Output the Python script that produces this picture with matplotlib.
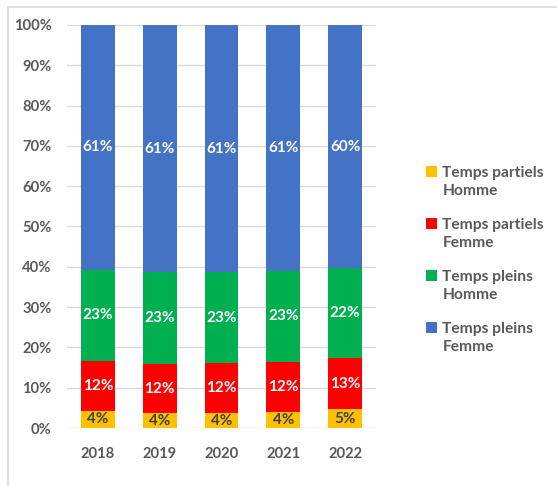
import matplotlib
matplotlib.use("Agg")
import matplotlib.pyplot as plt
from matplotlib.patches import Patch, Rectangle
from matplotlib.legend_handler import HandlerPatch
import numpy as np

plt.rcParams['font.family'] = ['Lato', 'DejaVu Sans']

years = ["2018", "2019", "2020", "2021", "2022"]
series_names = ["Temps partiels\nHomme", "Temps partiels\nFemme",
                "Temps pleins\nHomme", "Temps pleins\nFemme"]
partiels_homme = [4.3, 3.7, 3.7, 4.0, 4.6]
partiels_femme = [12.4, 12.2, 12.4, 12.4, 12.7]
pleins_homme = [22.6, 22.8, 22.6, 22.6, 22.3]
pleins_femme = [60.7, 61.3, 61.3, 61.0, 60.4]
colors = ["#FFC000", "#FF0000", "#00B050", "#4472C4"]
label_colors = ["#404040", "white", "white", "white"]

W, H = 557, 486
fig = plt.figure(figsize=(W / 100, H / 100), dpi=100)

# outer frame
fig.patches.append(Rectangle((8 / W, -0.01), 1.0, (H - 7) / H + 0.01,
                             transform=fig.transFigure, fill=False,
                             edgecolor="#D9D9D9", linewidth=1.2))

ax = fig.add_axes([67 / W, (H - 428) / H, (376 - 67) / W, (428 - 25) / H])

data = np.array([partiels_homme, partiels_femme, pleins_homme, pleins_femme])
totals = data.sum(axis=0)
frac = data / totals
x = np.arange(len(years))
bottom = np.zeros(len(years))
handles = []
for i in range(4):
    ax.bar(x, frac[i], 0.55, bottom=bottom, color=colors[i], zorder=3)
    for j in range(len(years)):
        ax.text(x[j], bottom[j] + frac[i][j] / 2, f"{data[i][j]:.0f}%",
                ha="center", va="center", color=label_colors[i],
                fontsize=11, fontweight="bold", zorder=4)
    bottom += frac[i]
    handles.append(Patch(facecolor=colors[i], label=series_names[i]))

ax.set_xlim(-0.5, len(years) - 0.5)
ax.set_ylim(0, 1)
ax.set_yticks(np.arange(0, 1.01, 0.1))
ax.set_yticklabels([f"{int(round(v * 100))}%" for v in np.arange(0, 1.01, 0.1)])
ax.set_xticks(x)
ax.set_xticklabels(years)
ax.grid(axis="y", color="#D9D9D9", linewidth=1, zorder=0)
for s in ax.spines.values():
    s.set_visible(False)
ax.tick_params(length=0, colors="#595959", labelsize=10.6)
ax.tick_params(axis="y", pad=11)
ax.tick_params(axis="x", pad=14)
for lab in ax.get_xticklabels() + ax.get_yticklabels():
    lab.set_fontweight("bold")


def top_patch(legend, orig_handle, xdescent, ydescent, width, height, fontsize):
    return Rectangle((-xdescent, -ydescent + 0.68 * fontsize), width, height)


leg = fig.legend(handles=handles, loc="upper left",
                 bbox_to_anchor=(412 / W, 1 - 152 / H), frameon=False,
                 fontsize=11.2, labelspacing=1.25, handlelength=0.7,
                 handleheight=0.7, handletextpad=0.35, labelcolor="#595959",
                 handler_map={Patch: HandlerPatch(patch_func=top_patch)})
for t in leg.get_texts():
    t.set_fontweight("bold")
    t.set_linespacing(1.4)

fig.savefig("out.png", dpi=100)
